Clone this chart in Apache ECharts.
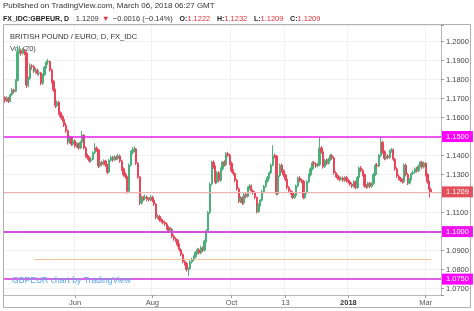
<!DOCTYPE html>
<html><head><meta charset="utf-8">
<script src="https://cdn.jsdelivr.net/npm/echarts@6/dist/echarts.min.js"></script>
<style>html,body{margin:0;padding:0;background:#fff;}#c{width:474px;height:311px;}</style>
</head><body><div id="c"></div>
<script>
// ---- data ----
const firstDate = '2017-04-07';      // first trading day shown
const slotCount = 243;               // weekday slots on the axis (incl. empty right margin)
const xTickDates  = ['2017-06-01','2017-08-01','2017-10-02','2017-11-13','2018-01-01','2018-03-01'];
const xTickLabels = ['Jun','Aug','Oct','13','2018','Mar'];
const yMin = 1.06665, yMax = 1.20868;
const levelValues = [1.1500, 1.1000, 1.0750];
const lastPrice = 1.1209;
const orangeLevel = 1.0855;
const orangeStartDate = '2017-05-01';
// daily candles: [open, close, low, high]
const ohlc = [
[1.1705,1.1690,1.1678,1.1712],[1.1690,1.1702,1.1682,1.1712],[1.1702,1.1685,1.1676,1.1708],[1.1685,1.1720,1.1680,1.1728],
[1.1720,1.1745,1.1712,1.1755],[1.1745,1.1738,1.1725,1.1752],[1.1738,1.1795,1.1732,1.1802],[1.1795,1.1945,1.1790,1.1980],
[1.1945,1.1952,1.1935,1.1968],[1.1952,1.1938,1.1925,1.1962],[1.1938,1.1955,1.1930,1.1965],[1.1955,1.1940,1.1928,1.1960],
[1.1940,1.1770,1.1755,1.1945],[1.1770,1.1805,1.1760,1.1815],[1.1805,1.1872,1.1798,1.1885],[1.1872,1.1868,1.1852,1.1882],
[1.1868,1.1845,1.1835,1.1875],[1.1845,1.1850,1.1832,1.1862],[1.1850,1.1832,1.1822,1.1858],[1.1832,1.1835,1.1820,1.1848],
[1.1835,1.1780,1.1770,1.1840],[1.1780,1.1825,1.1772,1.1832],[1.1825,1.1865,1.1818,1.1872],[1.1865,1.1892,1.1858,1.1900],
[1.1892,1.1895,1.1878,1.1908],[1.1895,1.1850,1.1842,1.1900],[1.1850,1.1790,1.1780,1.1858],[1.1790,1.1745,1.1735,1.1798],
[1.1745,1.1662,1.1650,1.1752],[1.1662,1.1680,1.1655,1.1690],[1.1680,1.1625,1.1615,1.1688],[1.1625,1.1605,1.1595,1.1632],
[1.1605,1.1590,1.1578,1.1615],[1.1590,1.1560,1.1550,1.1598],[1.1560,1.1530,1.1520,1.1572],[1.1530,1.1470,1.1458,1.1538],
[1.1470,1.1495,1.1462,1.1505],[1.1495,1.1460,1.1450,1.1502],[1.1460,1.1478,1.1452,1.1488],[1.1478,1.1450,1.1440,1.1485],
[1.1450,1.1462,1.1442,1.1472],[1.1462,1.1440,1.1430,1.1468],[1.1440,1.1470,1.1435,1.1478],[1.1470,1.1508,1.1465,1.1530],
[1.1508,1.1440,1.1432,1.1512],[1.1440,1.1400,1.1390,1.1448],[1.1400,1.1388,1.1378,1.1410],[1.1388,1.1372,1.1362,1.1395],
[1.1372,1.1380,1.1365,1.1390],[1.1380,1.1415,1.1375,1.1422],[1.1415,1.1440,1.1408,1.1465],[1.1440,1.1430,1.1420,1.1448],
[1.1430,1.1345,1.1335,1.1435],[1.1345,1.1365,1.1338,1.1375],[1.1365,1.1355,1.1345,1.1372],[1.1355,1.1372,1.1348,1.1380],
[1.1372,1.1350,1.1340,1.1378],[1.1350,1.1312,1.1302,1.1355],[1.1312,1.1375,1.1308,1.1382],[1.1375,1.1390,1.1368,1.1400],
[1.1390,1.1378,1.1368,1.1398],[1.1378,1.1392,1.1372,1.1402],[1.1392,1.1385,1.1375,1.1400],[1.1385,1.1398,1.1378,1.1408],
[1.1398,1.1372,1.1362,1.1405],[1.1372,1.1330,1.1320,1.1378],[1.1330,1.1300,1.1290,1.1338],[1.1300,1.1290,1.1278,1.1312],
[1.1290,1.1212,1.1200,1.1295],[1.1212,1.1350,1.1208,1.1358],[1.1350,1.1415,1.1342,1.1425],[1.1415,1.1428,1.1405,1.1445],
[1.1428,1.1435,1.1418,1.1448],[1.1435,1.1360,1.1350,1.1440],[1.1360,1.1288,1.1278,1.1365],[1.1288,1.1150,1.1140,1.1292],
[1.1150,1.1180,1.1142,1.1190],[1.1180,1.1175,1.1162,1.1188],[1.1175,1.1182,1.1165,1.1195],[1.1182,1.1170,1.1160,1.1190],
[1.1170,1.1168,1.1158,1.1180],[1.1168,1.1180,1.1160,1.1192],[1.1180,1.1165,1.1155,1.1188],[1.1165,1.1145,1.1135,1.1172],
[1.1145,1.1075,1.1065,1.1150],[1.1075,1.1080,1.1065,1.1092],[1.1080,1.1062,1.1052,1.1088],[1.1062,1.1055,1.1045,1.1070],
[1.1055,1.1048,1.1038,1.1065],[1.1048,1.1040,1.1030,1.1058],[1.1040,1.1020,1.1010,1.1048],[1.1020,1.1005,1.0995,1.1030],
[1.1005,1.1012,1.0998,1.1025],[1.1012,1.0975,1.0965,1.1018],[1.0975,1.0962,1.0952,1.0985],[1.0962,1.0955,1.0945,1.0970],
[1.0955,1.0930,1.0920,1.0962],[1.0930,1.0905,1.0895,1.0938],[1.0905,1.0880,1.0870,1.0912],[1.0880,1.0842,1.0832,1.0885],
[1.0842,1.0832,1.0822,1.0850],[1.0832,1.0800,1.0790,1.0840],[1.0800,1.0805,1.0765,1.0812],[1.0805,1.0840,1.0798,1.0848],
[1.0840,1.0852,1.0832,1.0862],[1.0852,1.0868,1.0845,1.0875],[1.0868,1.0890,1.0860,1.0898],[1.0890,1.0905,1.0882,1.0915],
[1.0905,1.0888,1.0878,1.0912],[1.0888,1.0915,1.0880,1.0925],[1.0915,1.0902,1.0892,1.0922],[1.0902,1.0950,1.0895,1.0958],
[1.0950,1.1005,1.0942,1.1012],[1.1005,1.1100,1.0998,1.1108],[1.1100,1.1250,1.1092,1.1258],[1.1250,1.1365,1.1242,1.1372],
[1.1365,1.1340,1.1330,1.1375],[1.1340,1.1260,1.1250,1.1348],[1.1260,1.1310,1.1252,1.1318],[1.1310,1.1270,1.1260,1.1318],
[1.1270,1.1330,1.1262,1.1338],[1.1330,1.1365,1.1322,1.1372],[1.1365,1.1352,1.1342,1.1375],[1.1352,1.1410,1.1345,1.1418],
[1.1410,1.1402,1.1392,1.1420],[1.1402,1.1360,1.1350,1.1410],[1.1360,1.1320,1.1310,1.1368],[1.1320,1.1305,1.1295,1.1328],
[1.1305,1.1270,1.1260,1.1312],[1.1270,1.1225,1.1215,1.1278],[1.1225,1.1160,1.1150,1.1232],[1.1160,1.1178,1.1150,1.1188],
[1.1178,1.1150,1.1140,1.1185],[1.1150,1.1195,1.1142,1.1202],[1.1195,1.1185,1.1175,1.1205],[1.1185,1.1230,1.1178,1.1238],
[1.1230,1.1240,1.1220,1.1250],[1.1240,1.1215,1.1205,1.1248],[1.1215,1.1205,1.1195,1.1222],[1.1205,1.1180,1.1170,1.1212],
[1.1180,1.1105,1.1095,1.1185],[1.1105,1.1140,1.1098,1.1148],[1.1140,1.1165,1.1132,1.1172],[1.1165,1.1210,1.1158,1.1218],
[1.1210,1.1238,1.1202,1.1245],[1.1238,1.1265,1.1230,1.1272],[1.1265,1.1285,1.1258,1.1292],[1.1285,1.1310,1.1278,1.1318],
[1.1310,1.1350,1.1302,1.1358],[1.1350,1.1400,1.1342,1.1455],[1.1400,1.1398,1.1385,1.1412],[1.1398,1.1200,1.1190,1.1402],
[1.1200,1.1295,1.1192,1.1302],[1.1295,1.1350,1.1288,1.1358],[1.1350,1.1320,1.1310,1.1358],[1.1320,1.1298,1.1288,1.1328],
[1.1298,1.1275,1.1265,1.1305],[1.1275,1.1232,1.1222,1.1282],[1.1232,1.1215,1.1205,1.1240],[1.1215,1.1205,1.1195,1.1222],
[1.1205,1.1180,1.1170,1.1212],[1.1180,1.1190,1.1172,1.1198],[1.1190,1.1240,1.1182,1.1248],[1.1240,1.1282,1.1232,1.1290],
[1.1282,1.1270,1.1260,1.1292],[1.1270,1.1265,1.1255,1.1280],[1.1265,1.1180,1.1170,1.1272],[1.1180,1.1205,1.1172,1.1212],
[1.1205,1.1262,1.1198,1.1270],[1.1262,1.1298,1.1255,1.1305],[1.1298,1.1330,1.1290,1.1338],[1.1330,1.1362,1.1322,1.1370],
[1.1362,1.1355,1.1345,1.1372],[1.1355,1.1345,1.1335,1.1365],[1.1345,1.1352,1.1338,1.1362],[1.1352,1.1440,1.1345,1.1495],
[1.1440,1.1420,1.1410,1.1450],[1.1420,1.1342,1.1332,1.1425],[1.1342,1.1375,1.1335,1.1382],[1.1375,1.1360,1.1350,1.1385],
[1.1360,1.1380,1.1352,1.1388],[1.1380,1.1400,1.1372,1.1410],[1.1400,1.1388,1.1378,1.1408],[1.1388,1.1310,1.1300,1.1395],
[1.1310,1.1295,1.1285,1.1318],[1.1295,1.1282,1.1272,1.1302],[1.1282,1.1275,1.1265,1.1290],[1.1275,1.1282,1.1268,1.1290],
[1.1282,1.1270,1.1262,1.1290],[1.1270,1.1285,1.1262,1.1292],[1.1285,1.1268,1.1258,1.1292],[1.1268,1.1262,1.1252,1.1278],
[1.1262,1.1250,1.1240,1.1270],[1.1250,1.1240,1.1230,1.1258],[1.1240,1.1262,1.1232,1.1270],[1.1262,1.1232,1.1222,1.1268],
[1.1232,1.1285,1.1225,1.1292],[1.1285,1.1335,1.1278,1.1342],[1.1335,1.1322,1.1312,1.1345],[1.1322,1.1300,1.1290,1.1330],
[1.1300,1.1240,1.1230,1.1305],[1.1240,1.1235,1.1225,1.1250],[1.1235,1.1255,1.1228,1.1262],[1.1255,1.1238,1.1228,1.1262],
[1.1238,1.1252,1.1230,1.1260],[1.1252,1.1300,1.1245,1.1308],[1.1300,1.1350,1.1292,1.1358],[1.1350,1.1345,1.1335,1.1362],
[1.1345,1.1400,1.1338,1.1408],[1.1400,1.1470,1.1392,1.1497],[1.1470,1.1420,1.1410,1.1478],[1.1420,1.1385,1.1375,1.1428],
[1.1385,1.1398,1.1378,1.1405],[1.1398,1.1390,1.1380,1.1408],[1.1390,1.1425,1.1382,1.1432],[1.1425,1.1430,1.1415,1.1440],
[1.1430,1.1380,1.1370,1.1438],[1.1380,1.1330,1.1320,1.1388],[1.1330,1.1292,1.1282,1.1338],[1.1292,1.1280,1.1270,1.1300],
[1.1280,1.1270,1.1260,1.1288],[1.1270,1.1262,1.1252,1.1280],[1.1262,1.1350,1.1255,1.1358],[1.1350,1.1300,1.1290,1.1358],
[1.1300,1.1255,1.1245,1.1308],[1.1255,1.1275,1.1248,1.1282],[1.1275,1.1305,1.1268,1.1312],[1.1305,1.1312,1.1298,1.1322],
[1.1312,1.1330,1.1305,1.1338],[1.1330,1.1320,1.1310,1.1340],[1.1320,1.1345,1.1312,1.1352],[1.1345,1.1365,1.1338,1.1372],
[1.1365,1.1340,1.1330,1.1372],[1.1340,1.1360,1.1332,1.1368],[1.1360,1.1300,1.1290,1.1365],[1.1300,1.1262,1.1252,1.1308],
[1.1262,1.1222,1.1180,1.1268],[1.1222,1.1209,1.1209,1.1232]
];

// ---- build axis categories (weekdays) ----
function weekdays(start, n) {
  const out = []; const d = new Date(start + 'T00:00:00Z');
  while (out.length < n) {
    const wd = d.getUTCDay();
    if (wd !== 0 && wd !== 6) out.push(d.toISOString().slice(0, 10));
    d.setUTCDate(d.getUTCDate() + 1);
  }
  return out;
}
const dates = weekdays(firstDate, slotCount);
const tickMap = {};
xTickDates.forEach((d, i) => { tickMap[d] = xTickLabels[i]; });
const isTick = (idx, val) => tickMap[val] !== undefined;
const lastDate = dates[ohlc.length - 1];

const FONT = '"Liberation Sans", Arial, sans-serif';
const chart = echarts.init(document.getElementById('c'), null, {renderer: 'canvas'});

function levelLine(v, lineColor, w, boxColor) {
  return {
    yAxis: v,
    lineStyle: {color: lineColor, width: w, type: 'solid', opacity: 1},
    label: {show: true, position: 'end', distance: 1, formatter: () => v.toFixed(4),
      color: '#fff', backgroundColor: boxColor, padding: [2, 4, 1, 4], fontSize: 7.5, fontFamily: FONT}
  };
}
const orangeStyle = {color: '#f2b27e', width: 1, type: 'solid', opacity: 0.8};

chart.setOption({
  animation: false,
  backgroundColor: '#fff',
  grid: {left: 4, right: 33, top: 25, bottom: 16, containLabel: false},
  xAxis: {
    type: 'category', data: dates, boundaryGap: true,
    axisLine: {show: true, lineStyle: {color: '#b8b8b8', width: 1}},
    axisTick: {show: true, interval: isTick, length: 3, alignWithLabel: true, lineStyle: {color: '#999'}},
    axisLabel: {interval: isTick, formatter: v => (v === '2018-01-01' ? '{b|' + tickMap[v] + '}' : tickMap[v]),
      fontSize: 7.5, color: '#555', margin: 4, fontFamily: FONT,
      rich: {b: {fontWeight: 'bold', fontSize: 7.5, color: '#333', fontFamily: FONT}}},
    splitLine: {show: true, interval: isTick, lineStyle: {color: '#f0f0f0', width: 1}}
  },
  yAxis: {
    type: 'value', position: 'right', min: yMin, max: yMax, scale: true,
    minInterval: 0.01, maxInterval: 0.01, splitNumber: 14,
    axisLine: {show: true, lineStyle: {color: '#b8b8b8', width: 1}},
    axisTick: {show: true, length: 3, lineStyle: {color: '#999'}},
    axisLabel: {fontSize: 7.5, color: '#444', margin: 5, fontFamily: FONT,
      formatter: v => (Math.abs(v * 100 - Math.round(v * 100)) < 1e-6 ? v.toFixed(4) : '')},
    splitLine: {show: true, lineStyle: {color: '#f0f0f0', width: 1}}
  },
  series: [{
    type: 'candlestick',
    data: ohlc,
    barWidth: 1.8,
    itemStyle: {color: '#4cb07c', color0: '#e8465a', borderColor: '#4cb07c', borderColor0: '#e8465a', borderWidth: 1},
    markLine: {
      symbol: 'none', silent: true, animation: false, precision: 4,
      data: [
        levelLine(levelValues[0], '#f020f0', 1.5, '#ff00ff'),
        levelLine(levelValues[1], '#d24ee0', 2, '#f010f0'),
        levelLine(levelValues[2], '#e260e6', 2, '#ff00ff'),
        levelLine(lastPrice, '#f2b0b0', 1, '#e34f5a'),
        [{coord: [orangeStartDate, orangeLevel], lineStyle: orangeStyle, label: {show: false}},
         {coord: [lastDate, orangeLevel], lineStyle: orangeStyle, label: {show: false}}]
      ]
    }
  }],
  graphic: [
    {type: 'rect', shape: {x: 3.5, y: 24.5, width: 467, height: 283}, style: {fill: 'none', stroke: '#b0b0b0', lineWidth: 1}, silent: true},
    {type: 'text', x: 3, y: 2, style: {text: 'Published on TradingView.com, March 06, 2018 06:27 GMT', font: '8px ' + FONT, fill: '#333'}},
    {type: 'text', x: 3, y: 13, style: {
      text: '{b|FX_IDC:GBPEUR, D}  {n|1.1209} {r|▼} {n|−0.0016 (−0.14%)}  {b|O:}{r|1.1222}  {b|H:}{r|1.1232}  {b|L:}{r|1.1209}  {b|C:}{r|1.1209}',
      rich: {
        b: {font: 'bold 7px ' + FONT, fill: '#222', color: '#222'},
        n: {font: '7.5px ' + FONT, fill: '#333', color: '#333'},
        r: {font: '7.5px ' + FONT, fill: '#e0303c', color: '#e0303c'}
      }}},
    {type: 'text', x: 10, y: 33, style: {text: 'BRITISH POUND / EURO, D, FX_IDC', font: '7.5px ' + FONT, fill: '#333'}},
    {type: 'text', x: 10, y: 45, style: {text: 'Vol (20)', font: '7.5px ' + FONT, fill: '#444'}},
    {type: 'text', x: 12, y: 276, z: 100, style: {text: 'GBPEUR chart by TradingView', font: '8.6px ' + FONT, fill: '#5aa6e6'}}
  ]
});
</script></body></html>
